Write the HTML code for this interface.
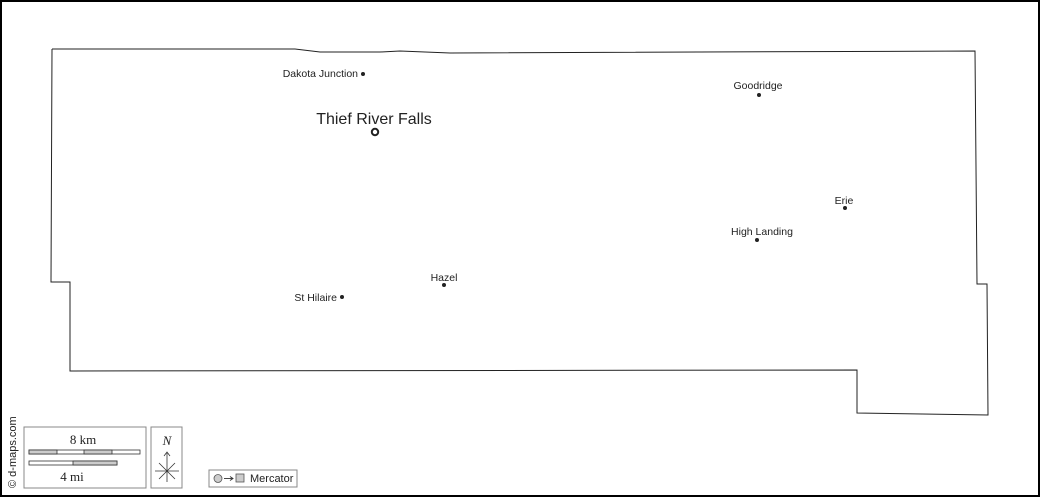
<!DOCTYPE html>
<html><head><meta charset="utf-8"><style>
html,body{margin:0;padding:0;background:#fff}
svg{display:block}
text{font-family:"Liberation Sans",sans-serif;fill:#222}
.s{font-family:"Liberation Serif",serif}
</style></head><body>
<svg width="1040" height="497" viewBox="0 0 1040 497">
<rect x="1" y="1" width="1038" height="495" fill="#fff" stroke="#000" stroke-width="2"/>
<polyline fill="none" stroke="#222" stroke-width="1" points="52,49 295,49 320,52 380,52 400,51 450,53 975,51 977,284 987,284 988,415 857,413 857,370 70,371 70,282 51,282 52,49"/>
<text x="358" y="77" font-size="10.5" text-anchor="end">Dakota Junction</text><circle cx="363" cy="74" r="2" fill="#222"/>
<text x="374" y="124" font-size="16" text-anchor="middle">Thief River Falls</text>
<circle cx="375" cy="132" r="3.2" fill="none" stroke="#222" stroke-width="2"/>
<text x="758" y="89" font-size="10.5" text-anchor="middle">Goodridge</text><circle cx="759" cy="95" r="2" fill="#222"/>
<text x="844" y="204" font-size="10.5" text-anchor="middle">Erie</text><circle cx="845" cy="208" r="2" fill="#222"/>
<text x="762" y="235" font-size="10.5" text-anchor="middle">High Landing</text><circle cx="757" cy="240" r="2" fill="#222"/>
<text x="444" y="281" font-size="10.5" text-anchor="middle">Hazel</text><circle cx="444" cy="285" r="2" fill="#222"/>
<text x="337" y="301" font-size="10.5" text-anchor="end">St Hilaire</text><circle cx="342" cy="297" r="2" fill="#222"/>
<text transform="translate(16,488) rotate(-90)" font-size="11">© d-maps.com</text>
<rect x="24" y="427" width="122" height="61" fill="#fff" stroke="#888"/>
<text class="s" x="83" y="444" font-size="13" text-anchor="middle">8 km</text>
<rect x="29" y="450" width="111" height="4" fill="#fff" stroke="#333" stroke-width="0.8"/>
<rect x="29" y="450" width="28" height="4" fill="#ccc" stroke="#333" stroke-width="0.8"/>
<rect x="84" y="450" width="28" height="4" fill="#ccc" stroke="#333" stroke-width="0.8"/>
<rect x="29" y="461" width="88" height="4" fill="#fff" stroke="#333" stroke-width="0.8"/>
<rect x="73" y="461" width="44" height="4" fill="#ccc" stroke="#333" stroke-width="0.8"/>
<text class="s" x="72" y="481" font-size="13" text-anchor="middle">4 mi</text>
<rect x="151" y="427" width="31" height="61" fill="#fff" stroke="#888"/>
<text class="s" x="167" y="445" font-size="13" font-style="italic" text-anchor="middle">N</text>
<g stroke="#333" stroke-width="0.8" fill="none">
<line x1="167" y1="453" x2="167" y2="482"/><line x1="155" y1="471" x2="179" y2="471"/>
<line x1="159" y1="463" x2="175" y2="479"/><line x1="175" y1="463" x2="159" y2="479"/>
<polyline points="164,456 167,452 170,456"/>
</g>
<rect x="209" y="470" width="88" height="17" fill="#fff" stroke="#888"/>
<circle cx="218" cy="478.5" r="4" fill="#ccc" stroke="#555" stroke-width="0.8"/>
<g stroke="#333" stroke-width="0.9" fill="none"><line x1="224" y1="478.5" x2="233" y2="478.5"/><polyline points="230,476.5 233,478.5 230,480.5"/></g>
<rect x="236" y="474" width="8" height="8" fill="#ccc" stroke="#555" stroke-width="0.8"/>
<text x="250" y="482" font-size="11">Mercator</text>
</svg>
</body></html>
